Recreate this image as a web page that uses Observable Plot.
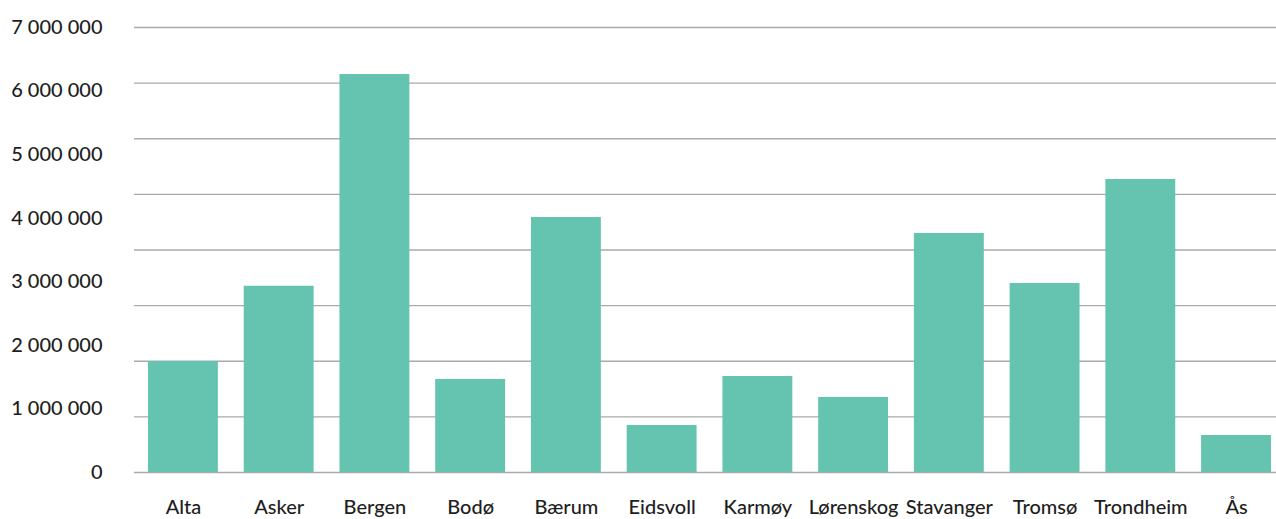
<!DOCTYPE html>
<html>
<head>
<meta charset="utf-8">
<script src="https://cdn.jsdelivr.net/npm/d3@7"></script>
<script src="https://cdn.jsdelivr.net/npm/@observablehq/plot@0.6"></script>
<style>
  html, body { margin: 0; padding: 0; background: #fff; }
  #chart svg { display: block; }
</style>
</head>
<body>
<div id="chart"></div>
<script>
const categories = ["Alta", "Asker", "Bergen", "Bodø", "Bærum", "Eidsvoll", "Karmøy", "Lørenskog", "Stavanger", "Tromsø", "Trondheim", "Ås"];
const values = [1746000, 2930000, 6260000, 1463000, 4011000, 739000, 1510000, 1180000, 3760000, 2973000, 4609000, 582000];
const yTicks = [0, 1000000, 2000000, 3000000, 4000000, 5000000, 6000000, 7000000];
const gridValues = [0, 875000, 1750000, 2625000, 3500000, 4375000, 5250000, 6125000, 7000000];

const data = categories.map((c, i) => ({ kommune: c, value: values[i] }));
const fmt = d => d3.format(",")(d).replace(/,/g, " ");

const chart = Plot.plot({
  width: 1276,
  height: 519,
  marginTop: 27,
  marginBottom: 47,
  marginLeft: 148,
  marginRight: 5,
  style: { fontFamily: "Lato, sans-serif", color: "#1e1e1e", background: "#fff" },
  x: { domain: categories, paddingInner: 0.27, paddingOuter: 0, round: false, label: null },
  y: { domain: [0, 7000000], label: null },
  marks: [
    Plot.ruleY(gridValues, { stroke: "#aaa", strokeWidth: 1.3, insetLeft: -14, insetRight: -5 }),
    Plot.barY(data, { x: "kommune", y: "value", fill: "#64c4b0" }),
    Plot.axisY({ ticks: yTicks, tickFormat: fmt, tickSize: 0, tickPadding: 46, fontSize: 20, fontWeight: 500, label: null }),
    Plot.axisX({ tickSize: 0, tickPadding: 27, fontSize: 20, fontWeight: 500, label: null })
  ]
});
document.getElementById("chart").appendChild(chart);
</script>
</body>
</html>
